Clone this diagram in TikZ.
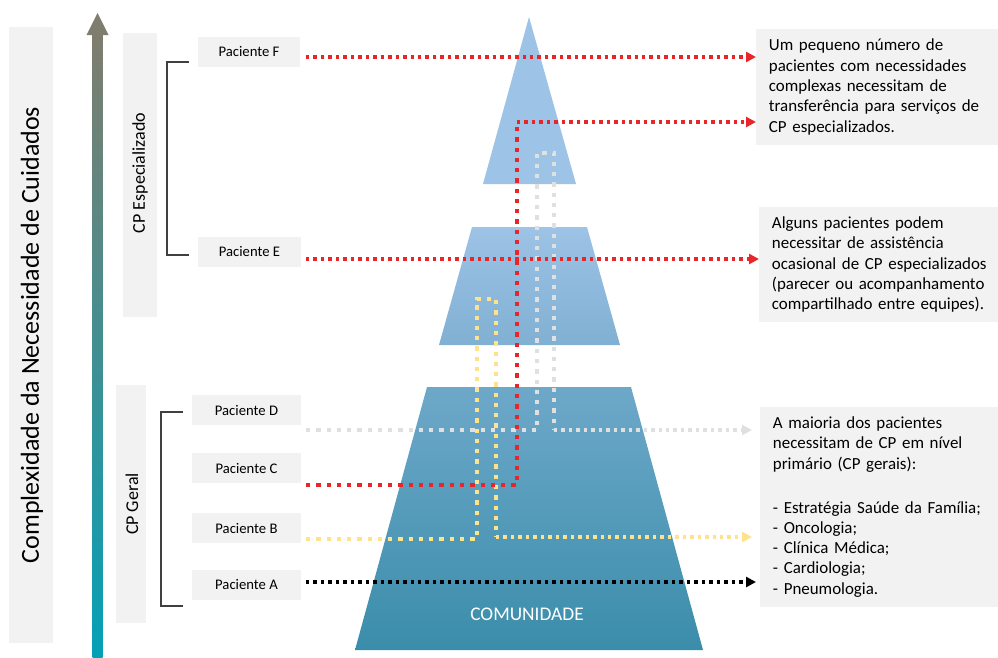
\documentclass[tikz,border=0pt]{standalone}
\usepackage{fontspec}
\setmainfont{Carlito}
\usetikzlibrary{arrows.meta}
\definecolor{panel}{HTML}{F2F2F2}
\definecolor{redl}{HTML}{E8262A}
\definecolor{grayl}{HTML}{E0E0E0}
\definecolor{yell}{HTML}{FFE38C}
\definecolor{brk}{HTML}{404040}
\definecolor{pyrA}{HTML}{9DC3E6}
\definecolor{pyrB}{HTML}{80B0D3}
\definecolor{pyrC}{HTML}{6EA8C9}
\definecolor{pyrM}{HTML}{4A96B5}
\definecolor{pyrD}{HTML}{3A8DAA}
\definecolor{arrTop}{HTML}{7F7D6D}
\definecolor{arrMid}{HTML}{728A84}
\definecolor{arrBot}{HTML}{05A0B6}
\begin{document}
\begin{tikzpicture}[x=0.75pt,y=-0.75pt,
  panelbox/.style={fill=panel, draw=none, inner sep=0pt},
  pac/.style={fill=panel, inner sep=0pt, minimum height=22.5pt, font=\fontsize{11}{13}\selectfont},
  infobox/.style={fill=panel, anchor=west, inner xsep=9.5pt, inner ysep=0pt, text width=175pt, align=left, font=\fontsize{12.7}{15.2}\selectfont},
  bigdot/.style={line width=3.2pt, dash pattern=on 3.2pt off 4.5pt},
  smalldot/.style={line width=2.6pt, dash pattern=on 2.6pt off 3pt},
  arrowtip/.style={-{Triangle[length=7.5pt,width=7.5pt]}},
  bracket/.style={draw=brk, line width=1.4pt}
]
\useasboundingbox (0,0) rectangle (998,657);

% left panels
\node[panelbox, minimum width=33pt, minimum height=462pt] (pL) at (31,335) {};
\node[rotate=90, font=\fontsize{19.5}{22}\selectfont] (tL) at (32,335) {Complexidade da Necessidade de Cuidados};
\node[panelbox, minimum width=25.5pt, minimum height=213pt] (pEsp) at (140,175) {};
\node[rotate=90, font=\fontsize{13.5}{16}\selectfont] (tEsp) at (140,173) {CP Especializado};
\node[panelbox, minimum width=22.5pt, minimum height=178.5pt] (pGer) at (131,504) {};
\node[rotate=90, font=\fontsize{13.5}{16}\selectfont] (tGer) at (132,504) {CP Geral};

% complexity arrow
\shade[top color=arrTop, middle color=arrMid, bottom color=arrBot] (92.5,34) rectangle (102.5,657);
\fill[arrTop] (97.5,13) -- (108.5,35) -- (86.5,35) -- cycle;

% brackets
\draw[bracket] (189,62) -- (167,62) -- (167,255) -- (189,255);
\draw[bracket] (183,412) -- (161,412) -- (161,606) -- (183,606);

% patient boxes
\node[pac, minimum width=76.5pt] (pF) at (249,52) {Paciente F};
\node[pac, minimum width=77.25pt] (pE) at (249.5,252) {Paciente E};
\node[pac, minimum width=81.75pt] (pD) at (246.5,410) {Paciente D};
\node[pac, minimum width=81.75pt] (pC) at (246.5,468) {Paciente C};
\node[pac, minimum width=81.75pt] (pB) at (246.5,528) {Paciente B};
\node[pac, minimum width=81.75pt] (pA) at (246.5,584.5) {Paciente A};

% pyramid
\fill[pyrA] (529,17) -- (576,184) -- (483,184) -- cycle;
\shade[top color=pyrA, bottom color=pyrB] (472,227) -- (587,227) -- (620,345) -- (439,345) -- cycle;
\shade[top color=pyrC, middle color=pyrM, bottom color=pyrD] (427,387) -- (631,387) -- (703,650) -- (355,650) -- cycle;
\node[white, font=\fontsize{14.5}{17}\selectfont] (com) at (527,614) {COMUNIDADE};

% info boxes
\node[infobox, minimum height=87pt] (b1) at (756,87) {Um pequeno número de\\pacientes com necessidades\\complexas necessitam de\\transferência para serviços de\\CP especializados.};
\node[infobox, minimum height=86.25pt] (b2) at (759,264.5) {Alguns pacientes podem\\necessitar de assistência\\ocasional de CP especializados\\(parecer ou acompanhamento\\compartilhado entre equipes).};
\node[infobox, minimum height=150pt] (b3) at (760,507) {A maioria dos pacientes\\necessitam de CP em nível\\primário (CP gerais):\\[17.8pt]- Estratégia Saúde da Família;\\- Oncologia;\\- Clínica Médica;\\- Cardiologia;\\- Pneumologia.};

% coordinates
\coordinate (sF) at (306,57);
\coordinate (sE) at (306,259);
\coordinate (sD) at (306,430);
\coordinate (d1) at (537,430);
\coordinate (d2) at (537,153);
\coordinate (d3) at (554,153);
\coordinate (d4) at (554,430);
\coordinate (sC) at (306,485);
\coordinate (c1) at (517,485);
\coordinate (c2) at (517,122);
\coordinate (sB) at (306,539);
\coordinate (e1) at (477,539);
\coordinate (e2) at (477,299);
\coordinate (e3) at (496,299);
\coordinate (e4) at (496,537);
\coordinate (sA) at (306,582);

% connectors
\draw[bigdot, grayl] (sD) -- (d1) -- (d2) -- (d3) -- (d4);
\draw[smalldot, grayl, arrowtip, shorten >=6pt] (d4) -- (b3.west |- d4);
\draw[bigdot, yell] (sB) -- (e1) -- (e2) -- (e3) -- (e4);
\draw[smalldot, yell, arrowtip, shorten >=6pt] (e4) -- (b3.west |- e4);
\draw[bigdot, redl] (sC) -- (c1) -- (c2);
\draw[smalldot, redl, arrowtip] (c2) -- (b1.west |- c2);
\draw[smalldot, redl, arrowtip] (sF) -- (b1.west |- sF);
\draw[smalldot, redl, arrowtip] (sE) -- (b2.west |- sE);
\draw[smalldot, black, arrowtip, shorten >=3pt] (sA) -- (b3.west |- sA);
\end{tikzpicture}
\end{document}
